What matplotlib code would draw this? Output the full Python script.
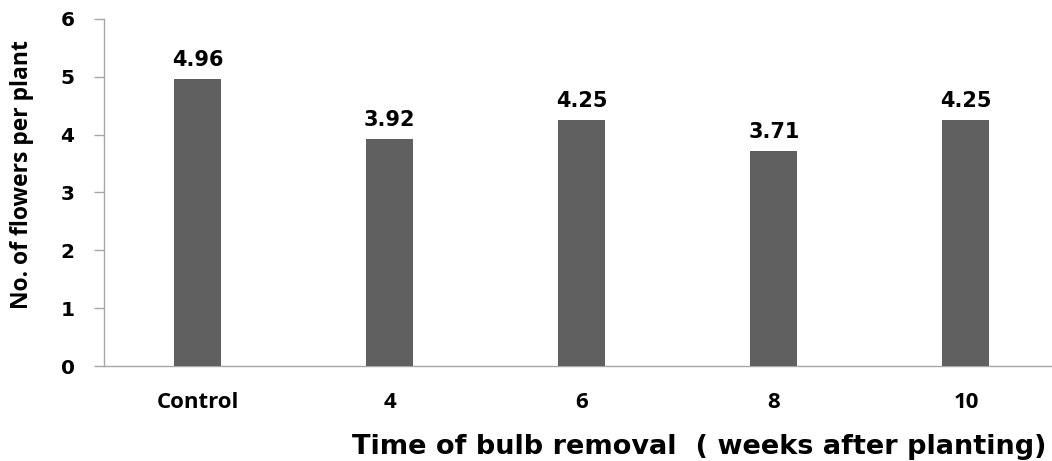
import matplotlib
matplotlib.use("Agg")
import matplotlib.pyplot as plt

categories = ["Control", "4", "6", "8", "10"]
values = [4.96, 3.92, 4.25, 3.71, 4.25]
yticks = [0, 1, 2, 3, 4, 5, 6]

fig = plt.figure(figsize=(10.52, 4.61), dpi=100)
ax = fig.add_axes([104/1052, 95/461, 1 - 104/1052, (366-19)/461])

x = list(range(len(categories)))
ax.bar(x, values, width=0.245, color="#606060", zorder=3)
for xi, v in zip(x, values):
    ax.text(xi, v + 0.16, f"{v:.2f}", ha="center", va="bottom",
            fontsize=15, fontweight="bold", family="DejaVu Sans", color="black")

ax.set_xlim(-0.487, 4.448)
ax.set_ylim(0, 6)
ax.set_yticks(yticks)
ax.set_yticklabels([str(t) for t in yticks], fontsize=14.5, fontweight="bold",
                   family="DejaVu Sans")
ax.set_xticks(x)
ax.set_xticklabels(categories, fontsize=16, fontweight="bold", family="Open Sans")
ax.tick_params(axis="x", length=0, pad=19)
ax.tick_params(axis="y", length=7.2, width=1, color="#a6a6a6", pad=14)

for s in ["top", "right"]:
    ax.spines[s].set_visible(False)
for s in ["left", "bottom"]:
    ax.spines[s].set_color("#a6a6a6")
    ax.spines[s].set_linewidth(1)

fig.text(22/1052, 1 - 175/461, "No. of flowers per plant", rotation=90,
         ha="center", va="center", fontsize=16.5, fontweight="bold", family="Open Sans")
fig.text(1047/1052, 1 - 447/461, "Time of bulb removal  ( weeks after planting)",
         ha="right", va="center", fontsize=19.5, fontweight="bold", family="DejaVu Sans")

fig.savefig("out.png", dpi=100)
